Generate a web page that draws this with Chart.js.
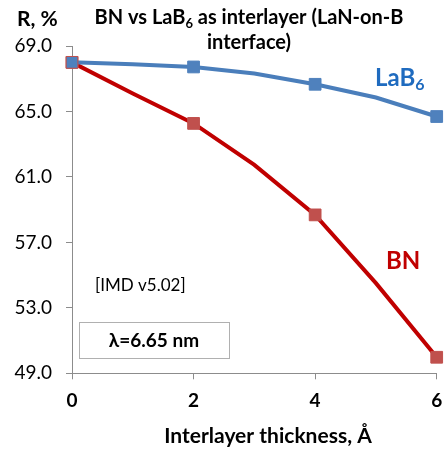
<!DOCTYPE html>
<html>
<head>
<meta charset="utf-8">
<script src="https://cdn.jsdelivr.net/npm/chart.js@4"></script>
<style>
  html, body { margin: 0; padding: 0; background: #fff; }
  #wrap { width: 446px; height: 449px; position: relative; }
</style>
</head>
<body>
<div id="wrap"><canvas id="chart"></canvas></div>
<script>
// Interlayer thickness, Å
const thickness = [0, 1, 2, 3, 4, 5, 6]
// reflectivity R, %
const lab6Values = [68.0, 67.88, 67.72, 67.32, 66.66, 65.85, 64.69]
const bnValues = [68.0, 66.1, 64.27, 61.73, 58.68, 54.51, 49.98]
// markers only on even thickness
const markerAt = [0, 2, 4, 6]
const yTicks = [49, 53, 57, 61, 65, 69]
const xTicks = [0, 2, 4, 6]

const FONT = "Lato, 'Liberation Sans', sans-serif"

function toPoints(vals) {
  return thickness.map((t, i) => ({ x: t, y: vals[i] }))
}
function radii(r) {
  return thickness.map(t => (markerAt.includes(t) ? r : 0))
}

// draw text made of parts, some of them subscripts
function richText(ctx, parts, x, y, size, weight, color, align) {
  ctx.save()
  ctx.fillStyle = color
  ctx.textBaseline = "middle"
  ctx.textAlign = "left"
  let w = 0
  parts.forEach(p => {
    ctx.font = `${weight} ${p.sub ? Math.round(size * 0.65) : size}px ${FONT}`
    p.w = ctx.measureText(p.t).width
    w += p.w
  })
  let cx = align === "center" ? x - w / 2 : x
  parts.forEach(p => {
    ctx.font = `${weight} ${p.sub ? Math.round(size * 0.65) : size}px ${FONT}`
    ctx.fillText(p.t, cx, p.sub ? y + size * 0.3 : y)
    cx += p.w
  })
  ctx.restore()
}

const labels = {
  id: "labels",
  afterDraw(chart) {
    const ctx = chart.ctx
    richText(ctx, [{ t: "R, %" }], 17, 19, 21, "bold", "#000", "left")
    richText(ctx, [{ t: "BN vs LaB" }, { t: "6", sub: true }, { t: " as interlayer (LaN-on-B" }], 249, 18, 20, "bold", "#000", "center")
    richText(ctx, [{ t: "interface)" }], 249, 43, 20, "bold", "#000", "center")
    richText(ctx, [{ t: "LaB" }, { t: "6", sub: true }], 375, 78, 24, "bold", "#1f6bbf", "left")
    richText(ctx, [{ t: "BN" }], 386, 261, 24, "bold", "#c00000", "left")
    richText(ctx, [{ t: "[IMD v5.02]" }], 95, 286, 17, "normal", "#000", "left")
    richText(ctx, [{ t: "Interlayer thickness, Å" }], 268, 436, 21, "bold", "#000", "center")

    // wavelength box
    ctx.save()
    ctx.fillStyle = "#fff"
    ctx.strokeStyle = "#b0b0b0"
    ctx.lineWidth = 1
    ctx.fillRect(79.5, 322.5, 150, 36)
    ctx.strokeRect(79.5, 322.5, 150, 36)
    ctx.restore()
    richText(ctx, [{ t: "λ=6.65 nm" }], 154, 341, 19, "bold", "#000", "center")
  },
}

const ctx = document.getElementById("chart")
new Chart(ctx, {
  type: "line",
  data: {
    datasets: [
      {
        label: "LaB6",
        data: toPoints(lab6Values),
        borderColor: "#4a7ebb",
        borderWidth: 4,
        backgroundColor: "#4f81bd",
        pointBackgroundColor: "#4f81bd",
        pointBorderColor: thickness.map(t => (t === 0 ? "#c0504d" : "#4f81bd")),
        pointStyle: "rect",
        pointRadius: radii(8.3),
        pointBorderWidth: 1,
        tension: 0,
        clip: false,
      },
      {
        label: "BN",
        data: toPoints(bnValues),
        borderColor: "#c00000",
        borderWidth: 4,
        backgroundColor: "#c0504d",
        pointBackgroundColor: "#c0504d",
        pointBorderColor: "#c0504d",
        pointStyle: "rect",
        pointRadius: radii(8.3),
        pointBorderWidth: 1,
        tension: 0,
        clip: false,
      },
    ],
  },
  options: {
    responsive: true,
    maintainAspectRatio: false,
    animation: false,
    events: [],
    layout: { padding: { top: 46, right: 8, left: 0, bottom: 0 } },
    plugins: {
      legend: { display: false },
      tooltip: { enabled: false },
    },
    scales: {
      x: {
        type: "linear",
        min: 0,
        max: 6,
        afterFit: s => { s.height = 75.7; s.paddingLeft = 0; s.paddingRight = 0 },
        afterBuildTicks: s => { s.ticks = xTicks.map(v => ({ value: v })) },
        border: { color: "#8c8c8c", width: 1 },
        grid: { drawOnChartArea: false, drawTicks: true, tickLength: 6, color: "#8c8c8c" },
        ticks: {
          color: "#000",
          padding: 10,
          maxRotation: 0,
          font: { family: FONT, size: 19, weight: "bold" },
        },
      },
      y: {
        min: 49,
        max: 69,
        afterFit: s => { s.width = 72; s.paddingTop = 0; s.paddingBottom = 0 },
        afterBuildTicks: s => { s.ticks = yTicks.map(v => ({ value: v })) },
        border: { color: "#8c8c8c", width: 1 },
        grid: { drawOnChartArea: false, drawTicks: true, tickLength: 6, color: "#8c8c8c" },
        ticks: {
          color: "#000",
          padding: 14,
          font: { family: FONT, size: 19 },
          callback: v => v.toFixed(1),
        },
      },
    },
  },
  plugins: [labels],
})
</script>
</body>
</html>
